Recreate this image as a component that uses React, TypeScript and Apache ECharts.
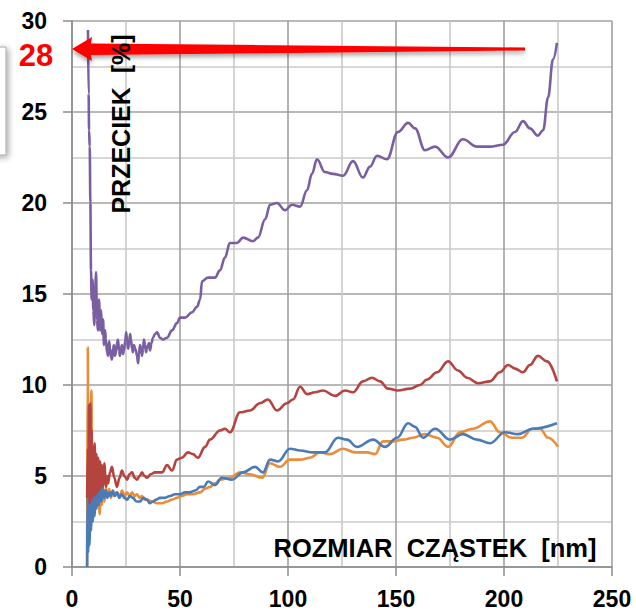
import React, { useEffect, useRef } from "react";
import * as echarts from "echarts";

const xTicks = [0, 50, 100, 150, 200, 250];
const yTicks = [0, 5, 10, 15, 20, 25, 30];

const purpleData: [number, number][] = [
  [7.4, 29.5], [7.7, 26.0], [7.9, 24.0], [8.2, 23.1], [8.5, 20.0], [8.8, 16.3], [9.1, 14.7], [9.5, 15.8],
  [9.9, 14.1], [10.3, 13.3], [10.7, 15.0], [11.1, 16.2], [11.6, 13.6], [12.0, 13.0], [12.5, 14.7], [13.0, 13.0],
  [13.5, 14.1], [13.9, 12.8], [14.4, 13.6], [14.8, 12.2], [15.3, 13.0], [15.7, 12.5], [16.2, 11.8], [16.7, 11.6],
  [17.2, 12.4], [17.6, 12.0], [18.1, 11.5], [18.5, 11.4], [19.0, 12.0], [19.4, 12.2], [19.9, 11.6], [20.4, 11.8],
  [20.8, 12.3], [21.3, 12.5], [21.8, 11.9], [22.2, 11.6], [22.7, 12.0], [23.1, 12.2], [23.6, 11.7], [24.1, 11.9],
  [24.6, 12.4], [25.1, 12.9], [25.5, 12.4], [26.0, 12.0], [26.4, 12.3], [26.9, 12.8], [27.3, 12.5], [27.8, 12.0],
  [28.2, 11.8], [28.7, 12.2], [29.2, 12.0], [29.6, 11.9], [30.1, 11.6], [30.6, 11.2], [31.0, 11.7], [31.5, 12.2],
  [32.0, 12.0], [32.4, 11.6], [32.9, 12.0], [33.3, 12.5], [33.8, 12.2], [34.3, 11.8], [34.7, 12.0], [35.2, 12.2],
  [35.7, 12.3], [36.1, 11.9], [36.8, 12.3], [37.5, 12.6], [38.4, 12.8], [39.4, 12.9], [40.7, 12.6], [42.2, 12.5],
  [44.0, 12.6], [46.3, 13.0], [48.6, 13.4], [50.0, 13.7], [52.3, 13.7], [55.6, 14.0], [57.9, 14.3], [59.3, 14.7],
  [60.2, 15.7], [63.0, 15.9], [66.2, 15.9], [68.5, 16.3], [70.8, 17.0], [73.1, 17.8], [76.4, 17.8], [79.2, 18.1],
  [83.8, 17.9], [86.1, 18.1], [89.4, 19.1], [91.7, 19.9], [94.9, 20.0], [98.6, 19.6], [101.9, 19.9], [105.6, 19.8],
  [108.8, 20.7], [111.1, 21.6], [113.4, 22.4], [117.1, 21.7], [120.8, 21.6], [125.5, 21.5], [130.1, 22.3], [134.7, 21.4],
  [138.0, 22.0], [141.2, 22.6], [145.8, 22.4], [150.9, 23.9], [155.6, 24.4], [158.8, 24.1], [163.4, 22.9], [168.1, 23.1],
  [174.1, 22.5], [181.0, 23.5], [187.5, 23.1], [193.5, 23.1], [199.5, 23.2], [205.1, 23.9], [208.8, 24.5], [212.0, 24.1],
  [215.7, 23.7], [218.1, 24.0], [220.4, 25.8], [222.7, 27.9], [224.5, 28.8],
];

const redData: [number, number][] = [
  [7.0, 3.8], [7.3, 6.5], [7.6, 4.0], [7.9, 8.9], [8.2, 3.5], [8.5, 9.0], [8.8, 4.0], [9.1, 7.5],
  [9.4, 3.8], [9.8, 6.6], [10.1, 4.0], [10.5, 6.8], [10.9, 3.9], [11.3, 6.2], [11.7, 4.1], [12.1, 6.0],
  [12.5, 4.2], [13.0, 5.8], [13.4, 4.3], [13.9, 5.6], [14.4, 4.4], [14.9, 5.7], [15.8, 4.4], [16.3, 5.0],
  [16.7, 4.6], [17.6, 5.2], [18.5, 5.5], [19.6, 4.9], [20.8, 4.4], [22.0, 4.9], [23.1, 5.3], [24.3, 5.0],
  [25.5, 4.8], [26.6, 5.1], [27.8, 5.2], [29.0, 4.9], [30.1, 4.8], [31.3, 5.0], [32.4, 5.2], [33.6, 5.0],
  [34.7, 4.9], [36.5, 5.1], [38.4, 5.2], [41.7, 5.2], [44.0, 5.6], [46.3, 5.3], [48.6, 5.9], [50.9, 6.0],
  [53.7, 6.3], [56.0, 6.2], [58.3, 6.0], [61.6, 6.6], [63.9, 7.0], [68.5, 7.5], [70.8, 7.6], [73.1, 7.4],
  [77.8, 8.5], [82.4, 8.6], [87.0, 9.0], [90.7, 9.2], [94.9, 8.6], [99.5, 9.0], [102.3, 9.2], [105.6, 9.9],
  [108.8, 9.5], [112.5, 9.6], [116.2, 9.7], [121.8, 9.4], [126.4, 9.7], [130.1, 9.6], [134.7, 10.2], [138.9, 10.4],
  [142.6, 10.2], [146.3, 9.8], [150.9, 9.7], [156.5, 9.8], [161.1, 10.0], [164.4, 10.3], [169.0, 10.7], [174.1, 11.3],
  [178.7, 10.8], [182.9, 10.4], [188.0, 10.1], [193.5, 10.2], [198.1, 10.7], [201.9, 11.1], [205.1, 10.9], [208.8, 10.7],
  [212.0, 11.1], [215.7, 11.6], [219.9, 11.3], [224.5, 10.2],
];

const orangeData: [number, number][] = [
  [7.0, 0.0], [7.3, 12.1], [7.6, 3.0], [7.9, 7.0], [8.2, 2.6], [8.6, 5.5], [9.0, 9.7], [9.3, 2.8],
  [9.7, 6.5], [10.1, 3.0], [10.5, 5.6], [10.9, 3.2], [11.4, 5.0], [11.8, 3.4], [12.3, 4.8], [12.8, 2.9],
  [13.3, 4.6], [13.8, 3.4], [14.4, 4.4], [15.0, 3.6], [15.7, 4.3], [16.4, 3.9], [17.2, 4.3], [18.0, 3.8],
  [18.8, 4.1], [19.7, 3.9], [20.8, 4.1], [22.0, 3.9], [23.2, 4.2], [24.4, 3.9], [25.5, 4.1], [26.7, 3.9],
  [27.8, 4.1], [29.0, 3.9], [30.1, 4.0], [31.3, 3.8], [32.4, 3.9], [33.6, 3.7], [34.7, 3.7], [37.0, 3.6],
  [39.4, 3.5], [41.7, 3.5], [44.0, 3.6], [46.3, 3.7], [48.6, 3.8], [50.9, 3.9], [53.2, 4.0], [56.0, 4.0],
  [59.3, 4.1], [61.6, 4.3], [63.9, 4.4], [66.2, 4.6], [68.5, 4.8], [73.1, 4.9], [77.8, 5.2], [82.4, 5.1],
  [88.0, 4.9], [91.7, 5.7], [96.3, 5.5], [100.9, 5.9], [105.6, 5.9], [110.2, 6.0], [114.8, 6.3], [119.4, 6.2],
  [125.5, 6.5], [131.0, 6.3], [136.6, 6.3], [140.3, 6.2], [144.0, 6.9], [148.6, 6.9], [153.2, 7.0], [157.9, 7.1],
  [163.4, 7.3], [169.0, 7.1], [174.1, 6.6], [179.6, 7.4], [185.6, 7.6], [193.5, 8.0], [198.1, 7.4], [203.7, 7.1],
  [208.3, 7.1], [213.0, 7.6], [216.7, 7.6], [220.4, 7.1], [225.0, 6.6],
];

const blueData: [number, number][] = [
  [7.0, 0.0], [7.2, 3.9], [7.5, 0.8], [7.8, 4.0], [8.1, 1.2], [8.5, 4.1], [8.8, 2.0], [9.2, 4.3],
  [9.6, 2.5], [10.0, 4.2], [10.4, 2.8], [10.9, 4.3], [11.4, 3.2], [11.9, 4.3], [12.4, 3.4], [13.0, 4.2],
  [13.6, 3.6], [14.2, 4.3], [14.9, 3.8], [15.6, 4.2], [16.4, 3.8], [17.2, 4.1], [18.0, 3.9], [18.9, 4.2],
  [19.8, 3.9], [20.8, 4.1], [21.9, 3.8], [23.0, 4.0], [24.2, 3.8], [25.5, 3.7], [26.8, 3.9], [28.2, 3.8],
  [29.8, 3.6], [31.5, 3.6], [33.0, 3.8], [34.7, 3.7], [36.0, 3.5], [37.5, 3.6], [39.0, 3.7], [40.7, 3.8],
  [43.0, 3.8], [45.4, 3.9], [47.7, 4.0], [50.0, 4.0], [52.3, 4.1], [54.6, 4.1], [57.0, 4.2], [59.3, 4.4],
  [61.0, 4.4], [63.0, 4.7], [66.2, 4.5], [69.4, 4.9], [74.1, 4.8], [79.2, 5.2], [84.7, 5.5], [88.4, 5.2],
  [91.7, 5.9], [95.4, 5.8], [100.9, 6.5], [105.6, 6.4], [111.6, 6.3], [117.1, 6.3], [123.1, 7.1], [127.3, 7.0],
  [131.9, 6.6], [139.4, 7.0], [144.9, 6.6], [150.5, 7.1], [155.6, 7.9], [158.8, 7.7], [162.5, 7.1], [168.1, 7.6],
  [175.0, 7.0], [181.0, 7.3], [187.5, 7.0], [193.5, 6.8], [200.5, 7.4], [206.5, 7.3], [213.4, 7.6], [224.5, 7.9],
];

const highlightValue = "28";
const yTitle = "PRZECIEK  [%]";
const xTitle = "ROZMIAR  CZĄSTEK  [nm]";

const FONT = "'Liberation Sans', Arial, sans-serif";

export default function App() {
  const ref = useRef<HTMLDivElement>(null);
  useEffect(() => {
    if (!ref.current) return;
    const chart = echarts.init(ref.current, null, { renderer: "svg" });
    const lineSeries = (data: [number, number][], color: string, z: number) => ({
      type: "line",
      data,
      showSymbol: false,
      smooth: 0.4,
      smoothMonotone: "x",
      z,
      lineStyle: { color, width: 2.6 },
      itemStyle: { color },
    });
    chart.setOption({
      animation: false,
      backgroundColor: "#ffffff",
      grid: { left: 72, top: 21, width: 540, height: 546, containLabel: false },
      xAxis: {
        type: "value",
        min: xTicks[0],
        max: xTicks[xTicks.length - 1],
        interval: 50,
        axisLine: { show: true, lineStyle: { color: "#8c8c8c", width: 1.5 } },
        axisTick: { show: true, length: 9, lineStyle: { color: "#8c8c8c", width: 1.5 } },
        axisLabel: { margin: 20, color: "#000", fontSize: 23, fontWeight: "bold", fontFamily: FONT },
        splitLine: { show: true, lineStyle: { color: "#a0a0a0", width: 1.6 } },
        minorTick: { show: false, splitNumber: 2 },
        minorSplitLine: { show: true, lineStyle: { color: "#cacaca", width: 1.6 } },
      },
      yAxis: {
        type: "value",
        min: yTicks[0],
        max: yTicks[yTicks.length - 1],
        interval: 5,
        axisLine: { show: true, lineStyle: { color: "#8c8c8c", width: 1.5 } },
        axisTick: { show: true, length: 9, lineStyle: { color: "#8c8c8c", width: 1.5 } },
        axisLabel: { margin: 25, color: "#000", fontSize: 23, fontWeight: "bold", fontFamily: FONT },
        splitLine: { show: true, lineStyle: { color: "#a0a0a0", width: 1.6 } },
        minorTick: { show: false, splitNumber: 2 },
        minorSplitLine: { show: true, lineStyle: { color: "#cacaca", width: 1.6 } },
      },
      series: [
        lineSeries(orangeData, "#e98d3a", 2),
        lineSeries(blueData, "#4a7bb7", 3),
        lineSeries(redData, "#b3443f", 4),
        lineSeries(purpleData, "#7a5ea2", 5),
      ],
      graphic: [
        {
          type: "rect",
          z: 100,
          shape: { x: -20, y: 47, width: 26, height: 108 },
          style: { fill: "#fff", stroke: "#a8a8a8", lineWidth: 1, shadowBlur: 6, shadowColor: "rgba(0,0,0,0.35)", shadowOffsetX: 2, shadowOffsetY: 2 },
        },
        {
          type: "polygon",
          z: 100,
          shape: {
            points: [
              [72, 49], [92, 37], [91, 43.5], [525, 47.5], [525, 50.5], [91, 55], [92, 61],
            ],
          },
          style: { fill: "#ff0000", shadowBlur: 4, shadowColor: "rgba(0,0,0,0.35)", shadowOffsetY: 3 },
        },
        {
          type: "text",
          z: 101,
          x: 36,
          y: 55,
          style: {
            text: highlightValue,
            fill: "#ff0000",
            stroke: "#ffffff",
            lineWidth: 3,
            font: `bold 31px ${FONT}`,
            align: "center",
            verticalAlign: "middle",
            shadowBlur: 4,
            shadowColor: "rgba(0,0,0,0.4)",
            shadowOffsetY: 2,
          },
        },
        {
          type: "text",
          z: 100,
          x: 121,
          y: 124,
          rotation: Math.PI / 2,
          style: {
            text: yTitle,
            fill: "#000",
            font: `bold 25px ${FONT}`,
            align: "center",
            verticalAlign: "middle",
          },
        },
        {
          type: "text",
          z: 100,
          x: 435,
          y: 548,
          style: {
            text: xTitle,
            fill: "#000",
            font: `bold 25.5px ${FONT}`,
            align: "center",
            verticalAlign: "middle",
          },
        },
      ],
    });
    return () => chart.dispose();
  }, []);
  return (
    <div
      ref={ref}
      style={{ position: "fixed", left: 0, top: 0, width: 636, height: 615, background: "#fff" }}
    />
  );
}
